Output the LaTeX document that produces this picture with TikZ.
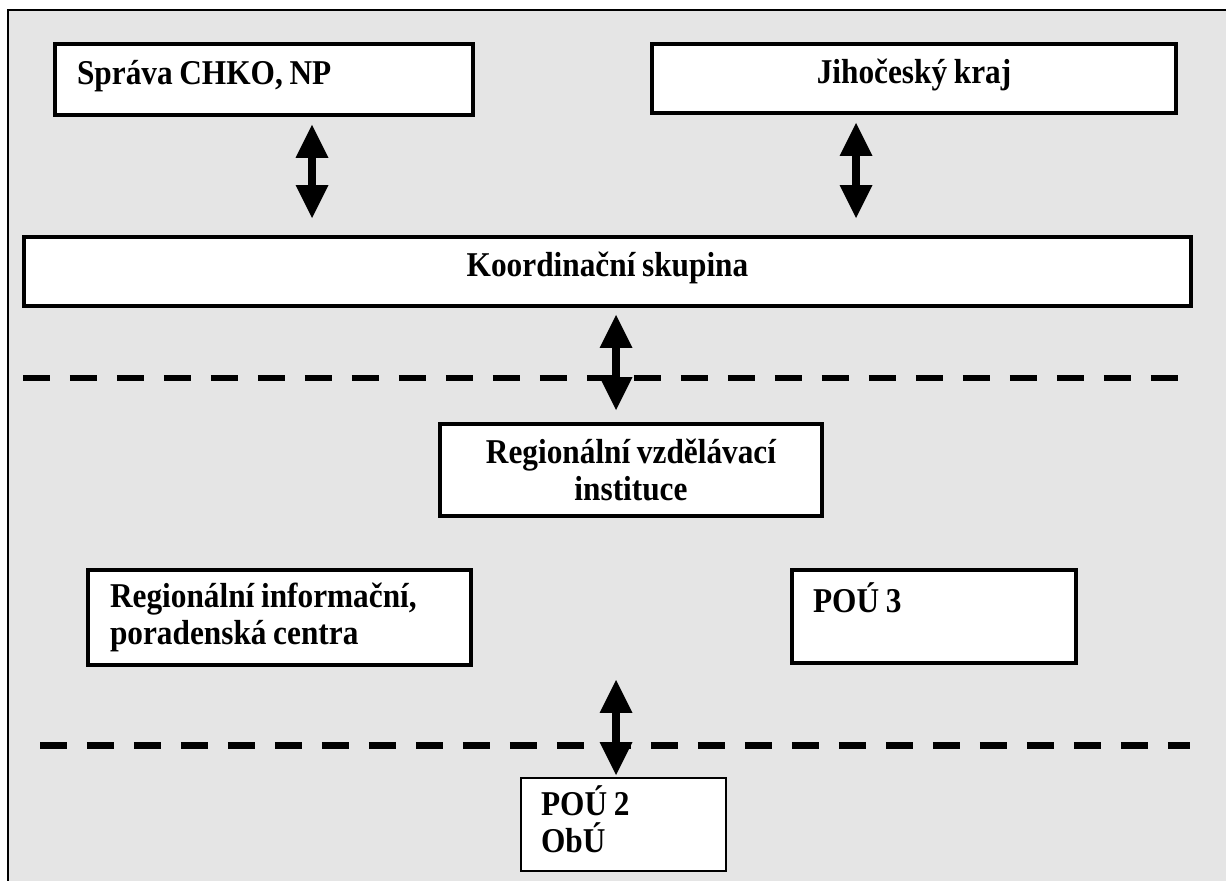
\documentclass[tikz,border=0pt]{standalone}
\usepackage{fontspec}
\setmainfont{Liberation Serif}[FakeStretch=0.9,WordSpace=0.85]
\usetikzlibrary{arrows.meta}
\definecolor{panelgray}{RGB}{229,229,229}
\tikzset{
  box/.style={draw,fill=white,rectangle,line width=0.08cm,inner ysep=0pt,
    font=\fontsize{19.8}{21.3}\selectfont\bfseries},
  leftbox/.style={box,align=left,execute at begin node={\spaceskip=0pt\xspaceskip=0pt}},
  sepline/.style={line width=0.14cm,dash pattern=on 0.54cm off 0.4cm}
}
\begin{document}
\begin{tikzpicture}[x=0.02cm,y=-0.02cm]
    \useasboundingbox (0,0) rectangle (1226,881);
    \fill[panelgray] (8,10) rectangle (1226,881);
    \draw[line width=0.04cm] (8,881) -- (8,10) -- (1226,10);
    \begin{scope}[every node/.style={box}]
        \node (sprava) [leftbox, minimum width=8.36cm, minimum height=1.42cm, text width=7.48cm, inner xsep=0.44cm, text height=0.5cm, text depth=0.28cm] at (264,79.5) {Správa CHKO, NP};
        \node (kraj) [minimum width=10.48cm, minimum height=1.38cm, text height=0.5cm, text depth=0.28cm] at (914,78.5) {Jihočeský kraj};
        \node (koord) [minimum width=23.34cm, minimum height=1.38cm, text height=0.5cm, text depth=0.28cm] at (607.5,271.5) {Koordinační skupina};
        \node (rvi) [align=center, minimum width=7.64cm, minimum height=1.84cm] at (631,470) {Regionální vzdělávací\\instituce};
        \node (ric) [leftbox, minimum width=7.66cm, minimum height=1.9cm, text width=6.78cm, inner xsep=0.44cm] at (279.5,617.5) {Regionální informační,\\poradenská centra};
        \node (pou3) [leftbox, minimum width=5.68cm, minimum height=1.86cm, text width=4.84cm, inner xsep=0.42cm, text height=0.5cm, text depth=0.68cm] at (934,616.5) {POÚ 3};
        \node (pou2) [leftbox, line width=0.04cm, minimum width=4.1cm, minimum height=1.86cm, text width=3.3cm, inner xsep=0.4cm, text height=0.64cm, text depth=1.02cm] at (623.5,824.5) {POÚ 2\\ObÚ};
    \end{scope}
    \draw[sepline] (23,378) -- (1180,378);
    \draw[sepline] (40,745) -- (1190,745);
    \coordinate (axl) at (312,0);
    \coordinate (axr) at (856,0);
    \coordinate (axc) at (616,0);
    \coordinate (pouarrow) at (616,680);
    \begin{scope}[>={Triangle[width=0.66cm,length=0.66cm,line width=0pt]},
                  every edge/.style={draw,line width=0.16cm,<->}]
        \path
            (sprava.south -| axl) edge [shorten <=0.16cm, shorten >=0.34cm] (koord.north -| axl)
            (kraj.south -| axr) edge [shorten <=0.16cm, shorten >=0.34cm] (koord.north -| axr)
            (koord.south -| axc) edge [shorten <=0.14cm, shorten >=0.24cm] (rvi.north -| axc)
            (pouarrow) edge [shorten >=0.04cm] (pouarrow |- pou2.north);
    \end{scope}
\end{tikzpicture}
\end{document}
